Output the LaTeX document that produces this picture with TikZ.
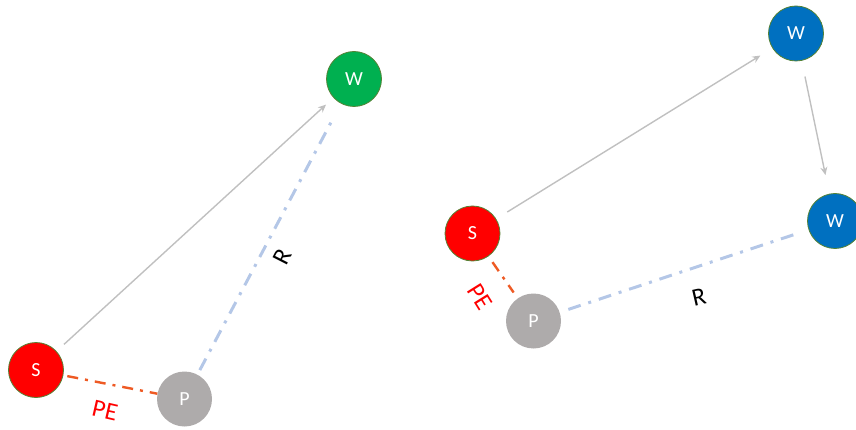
\documentclass[tikz,border=0pt]{standalone}
\usepackage{fontspec}
\setmainfont{Carlito}
\usetikzlibrary{arrows.meta}
\definecolor{sred}{HTML}{FF0000}
\definecolor{wgreen}{HTML}{00B050}
\definecolor{wblue}{HTML}{0070C0}
\definecolor{pgray}{HTML}{AEABAB}
\definecolor{edgegreen}{HTML}{548235}
\definecolor{arrowgray}{HTML}{C0C0C0}
\definecolor{peorange}{HTML}{EE5A24}
\definecolor{rblue}{HTML}{B4C7E7}
\tikzset{
  ball/.style={circle, minimum size=55pt, inner sep=0pt, text=white,
    font=\fontsize{20}{20}\selectfont},
  sball/.style={ball, fill=sred, draw=edgegreen, line width=0.8pt},
  wgball/.style={ball, fill=wgreen, draw=edgegreen, line width=0.8pt},
  wbball/.style={ball, fill=wblue, draw=edgegreen, line width=0.8pt},
  pball/.style={ball, fill=pgray},
  movearrow/.style={draw=arrowgray, line width=1.4pt,
    -{Stealth[length=8pt,width=7pt]}},
  peline/.style={draw=peorange, line width=2.4pt,
    dash pattern=on 11pt off 7pt on 3pt off 7pt},
  rline/.style={draw=rblue, line width=3pt,
    dash pattern=on 13pt off 8pt on 3pt off 8pt},
  pelabel/.style={text=sred, inner sep=0pt, font=\fontsize{25}{25}\selectfont},
  rlabel/.style={text=black, inner sep=0pt, font=\fontsize{25}{25}\selectfont}
}
\begin{document}
\begin{tikzpicture}[x=1pt,y=-1pt]
\useasboundingbox (0,0) rectangle (856,430);
% left group
\node[sball] (S1) at (36,370) {S};
\node[wgball] (W1) at (354,79) {W};
\node[pball] (P1) at (184.5,399) {P};
\draw[movearrow, shorten <=10pt, shorten >=10pt] (S1) -- (W1);
\draw[peline, shorten <=4pt, shorten >=0pt] (S1) -- (P1);
\draw[rline, shorten <=5pt, shorten >=15pt] (P1) -- (W1);
\node[pelabel, rotate=-13] (PE1) at (105,411) {PE};
\node[rlabel, rotate=63] (R1) at (282,257) {R};
% right group
\node[sball] (S2) at (472.5,233.5) {S};
\node[wbball] (W2) at (796,33.5) {W};
\node[wbball] (W3) at (835,221) {W};
\node[pball] (P2) at (533.5,321) {P};
\draw[movearrow, shorten <=13pt, shorten >=14pt] (S2) -- (W2);
\draw[movearrow, shorten <=16pt, shorten >=19pt] (W2) -- (W3);
\draw[peline, shorten <=7pt, shorten >=7pt] (S2) -- (P2);
\draw[rline, shorten <=9pt, shorten >=10pt] (P2) -- (W3);
\node[pelabel, rotate=-58] (PE2) at (480,297) {PE};
\node[rlabel, rotate=13] (R2) at (699,297) {R};
\end{tikzpicture}
\end{document}
